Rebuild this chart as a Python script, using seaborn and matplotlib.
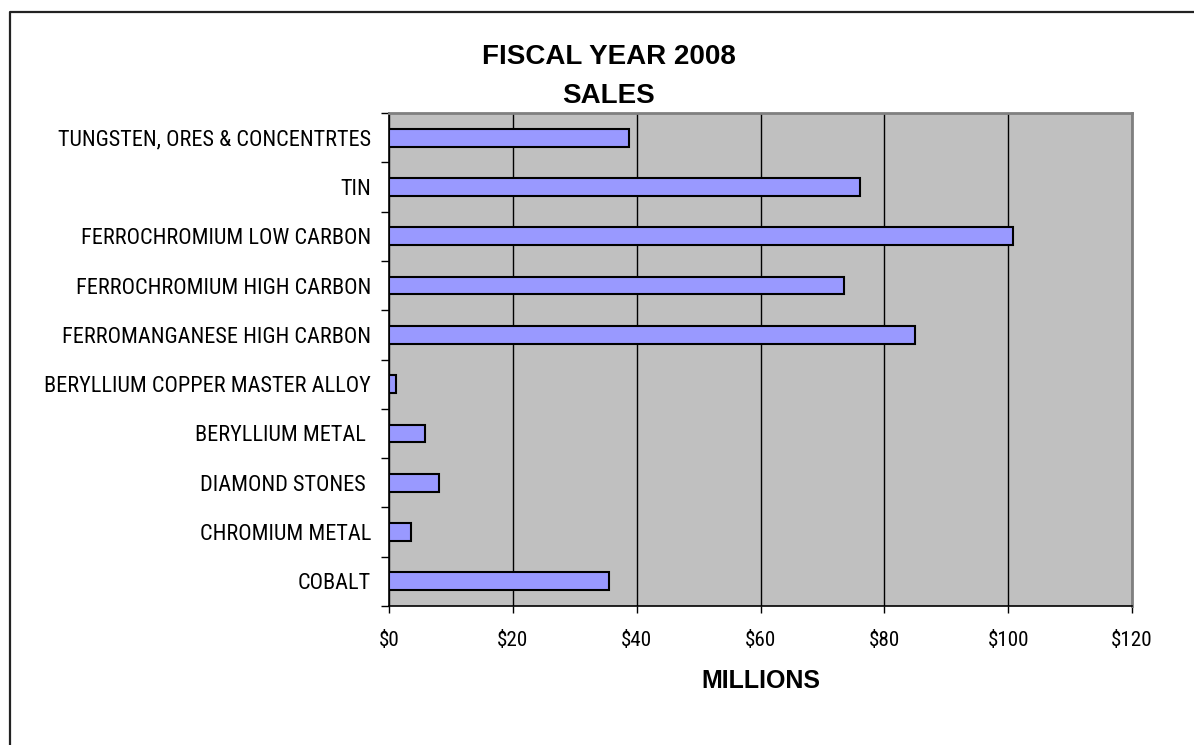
import seaborn as sns
import matplotlib.pyplot as plt
import pandas as pd
from matplotlib import font_manager
from matplotlib.lines import Line2D
from matplotlib.ticker import FixedLocator, FuncFormatter

materials = ['TUNGSTEN, ORES & CONCENTRTES', 'TIN', 'FERROCHROMIUM LOW CARBON',
             'FERROCHROMIUM HIGH CARBON', 'FERROMANGANESE HIGH CARBON',
             'BERYLLIUM COPPER MASTER ALLOY', 'BERYLLIUM METAL ', 'DIAMOND STONES ',
             'CHROMIUM METAL', 'COBALT']
sales = [38.8, 76.1, 100.7, 73.5, 84.9, 1.1, 5.8, 8.1, 3.5, 35.6]
x_ticks = [0, 20, 40, 60, 80, 100, 120]

df = pd.DataFrame({'Material': materials, 'Sales': sales})

# condensed face for the tick labels if one is installed
names = {f.name for f in font_manager.fontManager.ttflist}
label_font, ysize, xsize = 'Liberation Sans', 12.5, 12.5
for cand, sz in [('Liberation Sans Narrow', 15), ('Roboto Condensed', 16),
                 ('Arial Narrow', 15)]:
    if cand in names:
        label_font, ysize, xsize = cand, sz, sz - 0.8
        break

W, H = 1194, 745
fig = plt.figure(figsize=(W / 100, H / 100), dpi=100)
ax = fig.add_axes([389 / W, 1 - 606 / H, (1132 - 389) / W, (606 - 113) / H])

sns.barplot(data=df, x='Sales', y='Material', order=materials, orient='h',
            color='#9999FF', saturation=1, edgecolor='black', linewidth=1.5,
            width=0.36, ax=ax)

ax.set_facecolor('#C0C0C0')
ax.set_xlim(0, 120)
ax.set_ylim(9.5, -0.5)
ax.set_axisbelow(True)
ax.xaxis.grid(True, color='black', linewidth=1)
ax.yaxis.grid(False)

ax.set_xticks(x_ticks)
ax.xaxis.set_major_formatter(FuncFormatter(lambda v, p: f'${v:.0f}'))
ax.tick_params(axis='x', direction='out', length=5, width=1, pad=13,
               labelsize=xsize, colors='black')
for t in ax.get_xticklabels():
    t.set_family(label_font)

ax.tick_params(axis='y', which='major', length=0, pad=13, labelsize=ysize)
ax.yaxis.set_minor_locator(FixedLocator([i - 0.5 for i in range(len(materials) + 1)]))
ax.tick_params(axis='y', which='minor', direction='out', length=6, width=1)
for t in ax.get_yticklabels():
    t.set_family(label_font)

ax.set_ylabel('')
ax.set_xlabel('MILLIONS', fontsize=18, fontweight='bold', family='Liberation Sans',
              va='baseline')
ax.xaxis.set_label_coords(0.5, (606 - 688) / 493)

for s in ['left', 'bottom']:
    ax.spines[s].set_color('black')
    ax.spines[s].set_linewidth(1.2)
for s in ['top', 'right']:
    ax.spines[s].set_color('#808080')
    ax.spines[s].set_linewidth(2)

fig.text(609 / W, 1 - 63.5 / H, 'FISCAL YEAR 2008', ha='center', va='baseline',
         fontsize=20, fontweight='bold', family='Liberation Sans')
fig.text(609 / W, 1 - 103 / H, 'SALES', ha='center', va='baseline',
         fontsize=20, fontweight='bold', family='Liberation Sans')

# outer chart border (cut off at right and bottom)
fig.add_artist(Line2D([9.5 / W, 9.5 / W, 1.0], [0, 1 - 12 / H, 1 - 12 / H],
                      transform=fig.transFigure, color='#222222', linewidth=1.6))

fig.savefig('out.png', dpi=100)
